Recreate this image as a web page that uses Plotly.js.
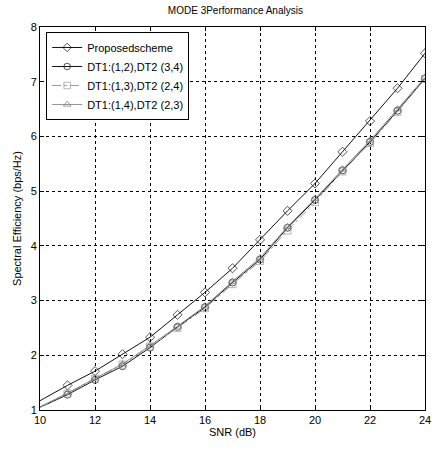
<!DOCTYPE html>
<html>
<head>
<meta charset="utf-8">
<script src="https://cdn.plot.ly/plotly-3.0.1.min.js"></script>
<style>html,body{margin:0;padding:0;background:#fff;}#chart{width:440px;height:451px;}</style>
</head>
<body>
<div id="chart"></div>
<script>
const snr = [10,11,12,13,14,15,16,17,18,19,20,21,22,23,24];
const proposed = [1.17,1.45,1.71,2.02,2.33,2.74,3.15,3.59,4.11,4.64,5.14,5.72,6.28,6.88,7.52];
const dt12_34 = [1.05,1.28,1.55,1.80,2.14,2.52,2.88,3.33,3.75,4.33,4.84,5.38,5.90,6.47,7.06];
const dt13_24 = [1.05,1.30,1.57,1.83,2.16,2.50,2.86,3.30,3.72,4.28,4.80,5.36,5.88,6.45,7.05];
const dt14_23 = [1.06,1.31,1.58,1.84,2.18,2.53,2.90,3.35,3.78,4.35,4.86,5.40,5.93,6.50,7.08];
const names = ["Proposedscheme","DT1:(1,2),DT2 (3,4)","DT1:(1,3),DT2 (2,4)","DT1:(1,4),DT2 (2,3)"];
const xTicks = [10,12,14,16,18,20,22,24];
const yTicks = [1,2,3,4,5,6,7,8];

const msize = snr.map((v,i)=> i===0 ? 0 : 7);
function tr(y, name, sym, color, dash, lw){
  return {x: snr, y: y, name: name, type:'scatter', mode:'lines+markers',
    line:{color:color, width:lw, dash:dash},
    marker:{symbol:sym, size:msize, color:color, line:{color:color, width:1}}};
}
const data = [
  tr(proposed, names[0], 'diamond-open', '#111', 'solid', 1),
  tr(dt12_34, names[1], 'circle-open', '#111', 'solid', 1),
  tr(dt13_24, names[2], 'square-open', '#999', 'dashdot', 1),
  tr(dt14_23, names[3], 'triangle-up-open', '#777', 'solid', 0.8)
];
const axisCommon = {
  showline:true, linecolor:'#000', linewidth:1, mirror:'ticks',
  ticks:'inside', ticklen:4, tickcolor:'#000',
  showgrid:true, gridcolor:'#000', gridwidth:1, griddash:'3px,3px',
  zeroline:false, tickfont:{family:'Liberation Sans, Arial, sans-serif', size:11, color:'#000'}
};
const layout = {
  width:440, height:451,
  margin:{l:40, r:15, t:27, b:41},
  paper_bgcolor:'#fff', plot_bgcolor:'#fff',
  font:{family:'Liberation Sans, Arial, sans-serif', color:'#000'},
  title:{text:'MODE 3Performance Analysis', font:{size:10, color:'#000'}, x:0.535, xanchor:'center', y:0.985, yanchor:'top'},
  xaxis:Object.assign({}, axisCommon, {range:[10,24], tickvals:xTicks, ticktext:xTicks.map(String),
    title:{text:'SNR (dB)', font:{size:11}, standoff:2}}),
  yaxis:Object.assign({}, axisCommon, {range:[1,8], tickvals:yTicks, ticktext:yTicks.map(String),
    title:{text:'Spectral Efficiency (bps/Hz)', font:{size:11}, standoff:6}}),
  showlegend:true,
  legend:{x:0.016, y:0.987, xanchor:'left', yanchor:'top', bgcolor:'#fff', bordercolor:'#000', borderwidth:1,
    font:{size:11, color:'#000'}, tracegroupgap:0, itemwidth:30}
};
Plotly.newPlot('chart', data, layout, {displayModeBar:false, staticPlot:true});
</script>
</body>
</html>
